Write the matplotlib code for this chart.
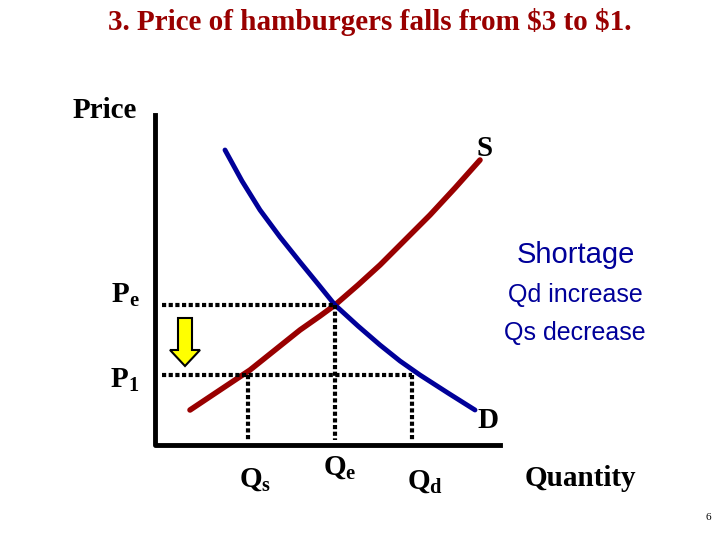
import matplotlib
matplotlib.use("Agg")
import matplotlib.pyplot as plt
from matplotlib.patches import FancyArrow

plt.rcParams['font.family'] = ['Liberation Serif']
plt.rcParams['mathtext.fontset'] = 'custom'
plt.rcParams['mathtext.rm'] = 'Liberation Serif:bold'

supply_x = [190, 220, 250, 275, 300, 320, 335, 358, 380, 405, 430, 455, 480]
supply_y = [410, 390, 370, 350, 330, 316, 305, 285, 265, 240, 215, 188, 160]
demand_x = [225, 242, 260, 280, 300, 318, 335, 358, 380, 400, 420, 448, 475]
demand_y = [150, 181, 210, 237, 262, 284, 305, 326, 345, 361, 375, 393, 410]
pe_y, p1_y = 305, 375
qs_x, qe_x, qd_x = 248, 335, 412

fig = plt.figure(figsize=(7.2, 5.4), dpi=100)
ax = fig.add_axes([0, 0, 1, 1])
ax.set_xlim(0, 720); ax.set_ylim(540, 0); ax.axis('off')

ax.plot([155, 155, 500], [115, 445, 445], color='black', lw=3.5)
ax.plot(supply_x, supply_y, color='#990000', lw=4, solid_capstyle='round')
ax.plot(demand_x, demand_y, color='#000099', lw=3.5, solid_capstyle='round')

ds = dict(color='black', lw=3, linestyle=(0, (1, 0.6)))
ax.plot([162, qe_x], [pe_y, pe_y], **ds)
ax.plot([qe_x, qe_x], [pe_y, 440], **ds)
ax.plot([162, qd_x], [p1_y, p1_y], **ds)
ax.plot([qs_x, qs_x], [p1_y, 440], **ds)
ax.plot([qd_x, qd_x], [p1_y, 440], **ds)

ax.add_patch(FancyArrow(185, 318, 0, 48, width=14, head_width=30, head_length=16,
                        length_includes_head=True, facecolor='#ffff00', edgecolor='black', lw=1.5))

sans = ['Liberation Sans']
ax.text(370, 22, "3. Price of hamburgers falls from \\$3 to \\$1.", color='#990000',
        fontsize=21, fontweight='bold', ha='center', va='center')
ax.text(105, 110, "Price", fontsize=21, fontweight='bold', ha='center', va='center')
ax.text(485, 148, "S", fontsize=21, fontweight='bold', ha='center', va='center')
ax.text(488, 420, "D", fontsize=21, fontweight='bold', ha='center', va='center')
ax.text(576, 255, "Shortage", color='#000099', fontsize=21, family=sans, ha='center', va='center')
ax.text(575, 295, "Qd increase", color='#000099', fontsize=18, family=sans, ha='center', va='center')
ax.text(575, 333, "Qs decrease", color='#000099', fontsize=18, family=sans, ha='center', va='center')
ax.text(125, 295, r"P$_\mathrm{e}$", fontsize=21, fontweight='bold', ha='center', va='center')
ax.text(125, 380, r"P$_\mathrm{1}$", fontsize=21, fontweight='bold', ha='center', va='center')
ax.text(255, 480, r"Q$_\mathrm{s}$", fontsize=21, fontweight='bold', ha='center', va='center')
ax.text(340, 468, r"Q$_\mathrm{e}$", fontsize=21, fontweight='bold', ha='center', va='center')
ax.text(425, 482, r"Q$_\mathrm{d}$", fontsize=21, fontweight='bold', ha='center', va='center')
ax.text(580, 478, "Quantity", fontsize=21, fontweight='bold', ha='center', va='center')
ax.text(708, 517, "6", fontsize=8, ha='center', va='center')

fig.savefig("out.png", dpi=100)
